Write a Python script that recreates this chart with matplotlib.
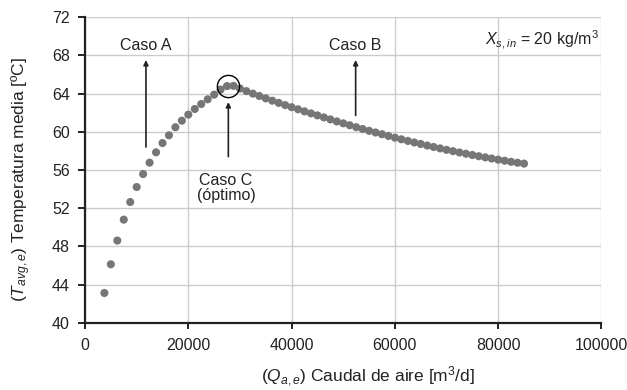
import matplotlib.pyplot as plt

plt.rcParams['font.family'] = ['Liberation Sans', 'DejaVu Sans']
plt.rcParams['mathtext.fontset'] = 'custom'
plt.rcParams['mathtext.rm'] = 'Liberation Sans'
plt.rcParams['mathtext.it'] = 'Liberation Sans:italic'

# Air flow rate (m3/d) and mean temperature (C)
caudal = [3750, 5000, 6250, 7500, 8750, 10000, 11250, 12500, 13750, 15000,
          16250, 17500, 18750, 20000, 21250, 22500, 23750, 25000, 26250, 27500,
          28750, 30000, 31250, 32500, 33750, 35000, 36250, 37500, 38750, 40000,
          41250, 42500, 43750, 45000, 46250, 47500, 48750, 50000, 51250, 52500,
          53750, 55000, 56250, 57500, 58750, 60000, 61250, 62500, 63750, 65000,
          66250, 67500, 68750, 70000, 71250, 72500, 73750, 75000, 76250, 77500,
          78750, 80000, 81250, 82500, 83750, 85000]
temp = [43.14, 46.14, 48.62, 50.81, 52.65, 54.22, 55.58, 56.77, 57.85, 58.82,
        59.63, 60.47, 61.16, 61.79, 62.38, 62.90, 63.39, 63.88, 64.41, 64.78,
        64.80, 64.52, 64.25, 63.99, 63.74, 63.49, 63.25, 63.02, 62.79, 62.57,
        62.35, 62.13, 61.92, 61.71, 61.50, 61.29, 61.08, 60.88, 60.68, 60.48,
        60.29, 60.10, 59.92, 59.74, 59.56, 59.38, 59.21, 59.04, 58.88, 58.72,
        58.56, 58.41, 58.26, 58.11, 57.97, 57.83, 57.70, 57.57, 57.44, 57.32,
        57.20, 57.08, 56.97, 56.86, 56.76, 56.67]

optimo_q = 27750
optimo_t = 64.75

fig = plt.figure(figsize=(6.27, 3.9), dpi=100)
ax = fig.add_axes([0.1356, 0.1718, 0.8237, 0.7846])

ax.scatter(caudal, temp, s=34, color='#767676', edgecolors='none', zorder=3)
ax.plot([optimo_q], [optimo_t], 'o', ms=16, mfc='none', mec='black', mew=1.0, zorder=4)

ax.set_xlim(0, 100000)
ax.set_ylim(40, 72)
ax.set_xticks(range(0, 100001, 20000))
ax.set_yticks(range(40, 73, 4))
ax.grid(True, color='#cccccc', linewidth=1.0, zorder=0)
ax.set_axisbelow(True)

for s in ['top', 'right']:
    ax.spines[s].set_visible(False)
for s in ['left', 'bottom']:
    ax.spines[s].set_linewidth(1.6)
    ax.spines[s].set_color('#222222')

ax.tick_params(axis='x', direction='out', length=4, width=1.4, pad=7, labelsize=11.5, colors='#222222')
ax.tick_params(axis='y', direction='out', length=5, width=1.4, pad=6, labelsize=11.5, colors='#222222')

ax.set_xlabel(r'$(Q_{a,e})$ Caudal de aire [m$^3$/d]', fontsize=12.5, color='#222222')
ax.xaxis.set_label_coords(0.547, -0.135)
ax.set_ylabel(r'$(T_{avg,e})$ Temperatura media [ºC]', fontsize=12.5, color='#222222')
ax.yaxis.set_label_coords(-0.100, 0.47)

arrow = dict(arrowstyle='-|>', color='#222222', lw=1.2, mutation_scale=7, shrinkA=0, shrinkB=0)

# Caso A
ax.annotate('', xy=(11800, 67.5), xytext=(11800, 58.4), arrowprops=arrow)
ax.text(11800, 69.0, 'Caso A', ha='center', va='center', fontsize=11.5, color='#222222')

# Caso B
ax.annotate('', xy=(52400, 67.5), xytext=(52400, 61.7), arrowprops=arrow)
ax.text(52300, 69.0, 'Caso B', ha='center', va='center', fontsize=11.5, color='#222222')

# Caso C (optimum)
ax.annotate('', xy=(optimo_q, 63.1), xytext=(optimo_q, 57.4), arrowprops=arrow)
ax.text(27300, 54.1, 'Caso C\n(óptimo)', ha='center', va='center', fontsize=11.5,
        linespacing=1.0, color='#222222')

ax.text(99500, 69.6, r'$X_{s,in}$ = 20 kg/m$^3$', ha='right', va='center', fontsize=11.5,
        color='#222222')

plt.savefig('out.png', dpi=100)
